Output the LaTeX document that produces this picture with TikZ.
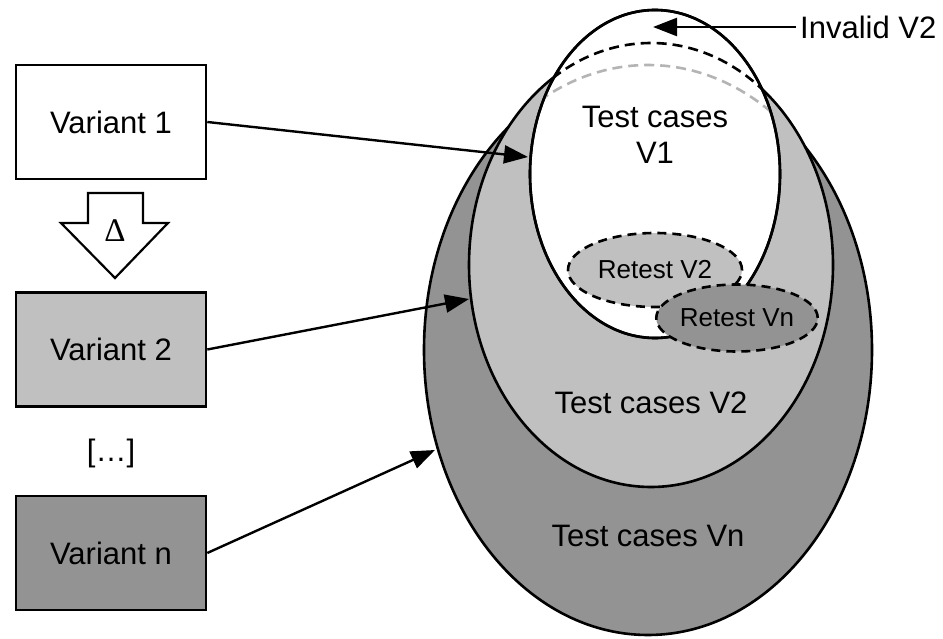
\documentclass[tikz,border=0pt]{standalone}
\usepackage{fontspec}
\setmainfont{Liberation Sans}
\newfontfamily\deltafont{Liberation Serif}
\usetikzlibrary{arrows.meta,shapes.geometric}
\definecolor{lightg}{RGB}{192,192,192}
\definecolor{darkg}{RGB}{147,147,147}
\definecolor{dashg}{RGB}{180,180,180}
\begin{document}
\begin{tikzpicture}[x=1pt,y=-1pt,
  lbl/.style={font=\fontsize{31}{36}\selectfont},
  small/.style={font=\fontsize{26}{30}\selectfont},
  box/.style={draw,line width=2.6pt,minimum width=190pt,minimum height=114pt,inner sep=0pt,lbl},
  conn/.style={line width=2.4pt,-{Triangle[length=24pt,width=18pt]}},
  shp/.style={draw,line width=2.6pt},
  dsh/.style={line width=2.6pt,dash pattern=on 10pt off 6pt},
  retest/.style={draw,line width=2.6pt,dash pattern=on 9pt off 6pt,ellipse,inner sep=0pt,small}]
\useasboundingbox (0,0) rectangle (943,639);
\fill[white] (0,0) rectangle (943,639);
% big shapes
\filldraw[shp,fill=darkg] (648,350) ellipse (224 and 285);
\filldraw[shp,fill=lightg] (651,265) ellipse (182 and 222);
\filldraw[shp,fill=white] (655,174) ellipse (125 and 164);
\begin{scope}
  \clip (655,174) ellipse (124 and 163);
  \draw[dsh,dashg] (648,350) ellipse (224 and 285);
  \draw[dsh] (651,265) ellipse (182 and 222);
\end{scope}
\draw[shp] (655,174) ellipse (125 and 164);
% retest ellipses
\node[retest,fill=lightg,minimum width=174pt,minimum height=74pt] (r2) at (655,270) {Retest V2};
\node[retest,fill=darkg,minimum width=159pt,minimum height=67pt] (rn) at (737,318) {Retest Vn};
% texts
\node[lbl,align=center] (t1) at (655,135) {Test cases\\V1};
\node[lbl] (t2) at (651,403) {Test cases V2};
\node[lbl] (tn) at (648,536) {Test cases Vn};
\node[lbl,anchor=west,inner sep=4pt] (inv) at (796,27) {Invalid V2};
\coordinate (invt) at (653,27);
\draw[conn] (inv.west) -- (invt);
% boxes
\node[box] (v1) at (111,122) {Variant 1};
\node[box,fill=lightg] (v2) at (111,349.5) {Variant 2};
\node[box,fill=darkg] (vn) at (111,553) {Variant n};
\node[lbl] (dots) at (111,453) {[…]};
% delta arrow
\draw[line width=2.2pt,fill=white,line join=miter] (88,193) -- (143,193) -- (143,223) -- (168,223) -- (115,278) -- (61,223) -- (88,223) -- cycle;
\node[font=\deltafont\fontsize{33}{36}\selectfont] (delta) at (115,231) {Δ};
% connectors
\coordinate (e1) at (528,157);
\coordinate (e2) at (469,299);
\coordinate (en) at (435,450);
\draw[conn] (v1.east) -- (e1);
\draw[conn] (v2.east) -- (e2);
\draw[conn] (vn.east) -- (en);
\end{tikzpicture}
\end{document}
